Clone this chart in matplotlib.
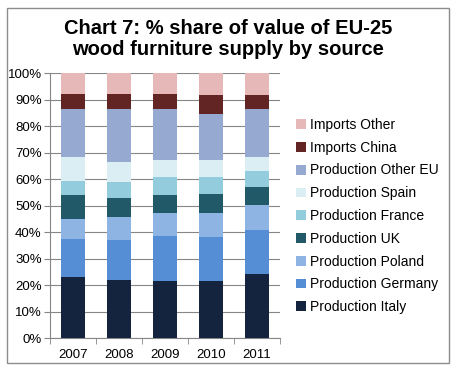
import numpy as np
import matplotlib
matplotlib.use('Agg')
import matplotlib.pyplot as plt
from matplotlib.patches import Rectangle
from matplotlib.ticker import FixedLocator, PercentFormatter

plt.rcParams['font.family'] = ['Liberation Sans', 'DejaVu Sans']

years = ['2007', '2008', '2009', '2010', '2011']

# share of value (%) per source, bottom to top
italy    = [23.1, 22.0, 21.6, 21.6, 24.3]
germany  = [14.4, 15.1, 17.0, 16.6, 16.6]
poland   = [7.5, 8.7, 8.7, 9.1, 9.4]
uk       = [9.1, 7.2, 6.8, 7.2, 6.8]
france   = [5.3, 6.0, 6.8, 6.4, 6.0]
spain    = [9.0, 7.5, 6.4, 6.4, 5.3]
other_eu = [18.1, 20.0, 19.2, 17.4, 18.1]
china    = [5.8, 5.8, 5.8, 7.1, 5.3]
imp_oth  = [7.7, 7.7, 7.7, 8.2, 8.2]

series = [
    ('Production Italy', italy, '#14243f'),
    ('Production Germany', germany, '#558ed5'),
    ('Production Poland', poland, '#8eb4e3'),
    ('Production UK', uk, '#215968'),
    ('Production France', france, '#93cddd'),
    ('Production Spain', spain, '#dbeef4'),
    ('Production Other EU', other_eu, '#95a9d1'),
    ('Imports China', china, '#632523'),
    ('Imports Other', imp_oth, '#e6b9b8'),
]

fig = plt.figure(figsize=(4.58, 3.71), dpi=100)
fig.patches.append(Rectangle((7/458, 8/371), 442/458, 355/371, transform=fig.transFigure,
                             fill=False, edgecolor='#8c8c8c', linewidth=1.0))

ax = fig.add_axes([50/458, 1 - 338.3/371, 230/458, 265/371])
x = np.arange(len(years))
totals = np.array([sum(s[1][i] for s in series) for i in range(len(years))])
bottom = np.zeros(len(years))
handles = []
for name, vals, col in series:
    vals = np.array(vals) / totals * 100
    b = ax.bar(x, vals, 0.52, bottom=bottom, color=col, label=name, zorder=3)
    handles.append(b)
    bottom += vals

ax.set_xlim(-0.5, 4.5)
ax.set_ylim(0, 100)
ax.set_yticks(np.arange(0, 101, 10))
ax.yaxis.set_major_formatter(PercentFormatter(decimals=0))
ax.yaxis.grid(True, color='#868686', linewidth=0.8, zorder=0)
ax.set_xticks(x)
ax.set_xticklabels(years)
ax.xaxis.set_minor_locator(FixedLocator(np.arange(-0.5, 5, 1)))
ax.tick_params(axis='x', which='major', length=0, pad=8, labelsize=9.5)
ax.tick_params(axis='x', which='minor', length=4, color='#868686')
ax.tick_params(axis='y', length=4, color='#868686', labelsize=9.5, pad=2)
for s in ['top', 'right']:
    ax.spines[s].set_visible(False)
for s in ['left', 'bottom']:
    ax.spines[s].set_color('#868686')

fig.text(228/458, 1 - 39/371, 'Chart 7: % share of value of EU-25\nwood furniture supply by source',
         ha='center', va='center', fontsize=14.5, fontweight='bold', linespacing=1.15)

fig.legend(handles[::-1], [s[0] for s in series][::-1], loc='upper left',
           bbox_to_anchor=(296/458, 1 - 118/371), frameon=False, fontsize=10,
           handlelength=0.7, handleheight=0.7, handletextpad=0.3, labelspacing=0.63,
           borderaxespad=0, borderpad=0)

fig.savefig('out.png', dpi=100)
